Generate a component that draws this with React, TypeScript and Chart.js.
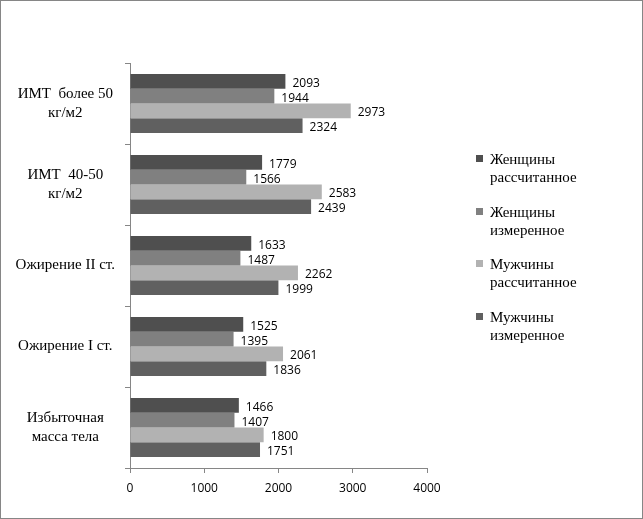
import { useEffect, useRef } from 'react'
import { Chart, registerables } from 'chart.js'

Chart.register(...registerables)

const categories = [
  ['ИМТ  более 50', 'кг/м2'],
  ['ИМТ  40-50', 'кг/м2'],
  'Ожирение II ст.',
  'Ожирение I ст.',
  ['Избыточная', 'масса тела'],
]

const seriesNames = [
  ['Женщины', 'рассчитанное'],
  ['Женщины', 'измеренное'],
  ['Мужчины', 'рассчитанное'],
  ['Мужчины', 'измеренное'],
]

const womenCalculated = [2093, 1779, 1633, 1525, 1466]
const womenMeasured = [1944, 1566, 1487, 1395, 1407]
const menCalculated = [2973, 2583, 2262, 2061, 1800]
const menMeasured = [2324, 2439, 1999, 1836, 1751]

const seriesColors = ['#4f4f4f', '#808080', '#b2b2b2', '#606060']

const serifStack = '"Liberation Serif", "Times New Roman", Times, "DejaVu Serif", serif'

const valueLabels = {
  id: 'valueLabels',
  afterDatasetsDraw(chart: Chart) {
    const ctx = chart.ctx
    ctx.save()
    ctx.font = '12px "Open Sans"'
    ctx.fillStyle = '#000'
    ctx.textAlign = 'left'
    ctx.textBaseline = 'middle'
    chart.data.datasets.forEach((ds, i) => {
      const meta = chart.getDatasetMeta(i)
      meta.data.forEach((bar: any, j) => {
        ctx.fillText(String(ds.data[j]), bar.x + 7, bar.y + 2)
      })
    })
    ctx.restore()
  },
}

export default function App() {
  const chartRef = useRef<HTMLCanvasElement>(null)
  const chartInstance = useRef<Chart | null>(null)

  useEffect(() => {
    document.body.style.margin = '0'
    if (!chartRef.current) return
    if (chartInstance.current) chartInstance.current.destroy()
    const ctx = chartRef.current.getContext('2d')
    if (!ctx) return

    const values = [womenCalculated, womenMeasured, menCalculated, menMeasured]

    chartInstance.current = new Chart(ctx, {
      type: 'bar',
      data: {
        labels: categories,
        datasets: values.map((data, i) => ({
          label: seriesNames[i].join(' '),
          data,
          backgroundColor: seriesColors[i],
          barPercentage: 1,
          categoryPercentage: 0.73,
        })),
      },
      options: {
        indexAxis: 'y',
        responsive: false,
        animation: false,
        layout: { padding: { left: 0, right: 216, top: 63, bottom: 0 } },
        plugins: {
          legend: { display: false },
          tooltip: { enabled: false },
        },
        scales: {
          x: {
            min: 0,
            max: 4000,
            afterFit: (scale: any) => { scale.height = 51 },
            grid: { drawOnChartArea: false, tickLength: 5, color: '#868686' },
            border: { color: '#868686' },
            ticks: {
              stepSize: 1000,
              padding: 8,
              color: '#000',
              font: { family: 'Open Sans', size: 12 },
              callback: (value: any) => String(value),
            },
          },
          y: {
            afterFit: (scale: any) => { scale.width = 130 },
            grid: { drawOnChartArea: false, tickLength: 5, color: '#868686' },
            border: { color: '#868686' },
            ticks: {
              crossAlign: 'center',
              padding: 10,
              color: '#000',
              font: { family: serifStack, size: 15, lineHeight: 1.3 },
            },
          },
        },
      },
      plugins: [valueLabels],
    })

    return () => {
      if (chartInstance.current) {
        chartInstance.current.destroy()
        chartInstance.current = null
      }
    }
  }, [])

  return (
    <div style={{ position: 'relative', width: 643, height: 519, background: '#fff' }}>
      <canvas ref={chartRef} width={643} height={519} style={{ display: 'block' }}></canvas>
      <div
        style={{
          position: 'absolute',
          inset: 0,
          border: '1px solid #868686',
          pointerEvents: 'none',
        }}
      />
      <div
        style={{
          position: 'absolute',
          left: 476,
          top: 150,
          fontFamily: serifStack,
          fontSize: 15,
          lineHeight: '18px',
          color: '#000',
        }}
      >
        {seriesNames.map((name, i) => (
          <div key={i} style={{ position: 'relative', height: 52.7, paddingLeft: 14 }}>
            <span
              style={{
                position: 'absolute',
                left: 0,
                top: 5,
                width: 7,
                height: 7,
                background: seriesColors[i],
              }}
            />
            <div>{name[0]}</div>
            <div>{name[1]}</div>
          </div>
        ))}
      </div>
    </div>
  )
}
